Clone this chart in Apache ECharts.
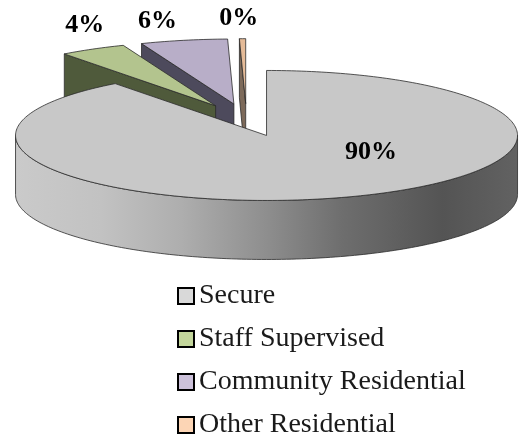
<!DOCTYPE html>
<html>
<head>
<meta charset="utf-8">
<script src="https://cdn.jsdelivr.net/npm/echarts@6/dist/echarts.min.js"></script>
<style>
  html, body { margin: 0; padding: 0; background: #fff; }
  #chart { width: 520px; height: 435px; }
</style>
</head>
<body>
<div id="chart"></div>
<script>
// 数据
var categories = ['Secure', 'Staff Supervised', 'Community Residential', 'Other Residential']
var values = [89.7, 4.3, 5.6, 0.4]
// 颜色: 顶面 / 侧面 / 图例
var topColors = ['#c8c8c8', '#b3c48e', '#b8aec8', '#e5bb98']
var wallColors = ['#8a8a8a', '#4f5a3b', '#4d4a5c', '#7d6a5a']
var legendColors = ['#d9d9d9', '#c3d69b', '#ccc1da', '#fcd5b5']

// 饼图几何
var pieX = 246.5, pieY = 120 // 未分离时的圆心
var RX = 251, RY = 65 // 椭圆半径
var depth = 59 // 厚度
var explode = 63 // 分离距离
// 标签相对扇形顶点的偏移
var labelShift = [[104.5, 17], [-131, -80], [-76.5, -83], [-7, -85]]

var total = values.reduce((a, b) => a + b, 0)

// 角度从12点方向顺时针
function angles(i) {
    var sum = 0
    for (var k = 0; k < i; k++) sum += values[k]
    return [sum / total * Math.PI * 2, (sum + values[i]) / total * Math.PI * 2]
}
function apex(i) {
    var a = angles(i)
    var mid = (a[0] + a[1]) / 2
    return [pieX + explode * Math.sin(mid), pieY - explode * Math.cos(mid) * RY / RX]
}
function rim(c, t, dy) {
    return [c[0] + RX * Math.sin(t), c[1] - RY * Math.cos(t) + (dy || 0)]
}
function arcPoints(c, from, to, dy) {
    var pts = []
    var n = Math.max(2, Math.ceil(Math.abs(to - from) / 0.02))
    for (var k = 0; k <= n; k++) pts.push(rim(c, from + (to - from) * k / n, dy))
    return pts
}

var sideGradient = new echarts.graphic.LinearGradient(0, 0, 1, 0, [
    { offset: 0, color: '#cacaca' },
    { offset: 0.17, color: '#c2c2c2' },
    { offset: 0.33, color: '#aeaeae' },
    { offset: 0.5, color: '#8e8e8e' },
    { offset: 0.65, color: '#6e6e6e' },
    { offset: 0.85, color: '#545454' },
    { offset: 1, color: '#626262' }
])
var edge = { stroke: '#2b2b2b', lineWidth: 0.8 }

function renderSlice(params, api) {
    var i = params.seriesIndex
    var a = angles(i)
    var c = apex(i)
    var children = []
    if (i === 0) {
        // 外侧面(前半圈)
        var bottom = arcPoints(c, Math.PI * 1.5, Math.PI * 0.5, depth)
        children.push({
            type: 'polygon',
            shape: { points: arcPoints(c, Math.PI * 0.5, Math.PI * 1.5).concat(bottom) },
            style: Object.assign({ fill: sideGradient }, edge)
        })
    } else {
        // 左侧截面
        var p = rim(c, a[0])
        children.push({
            type: 'polygon',
            shape: { points: [p, c, [c[0], c[1] + depth], [p[0], p[1] + depth]] },
            style: Object.assign({ fill: wallColors[i] }, edge)
        })
    }
    // 顶面
    children.push({
        type: 'polygon',
        shape: { points: [c].concat(arcPoints(c, a[0], a[1])) },
        style: Object.assign({ fill: topColors[i] }, edge)
    })
    // 百分比标签
    children.push({
        type: 'text',
        z2: 10,
        style: {
            text: Math.round(api.value(0)) + '%',
            x: c[0] + labelShift[i][0],
            y: c[1] + labelShift[i][1],
            align: 'center',
            verticalAlign: 'middle',
            fill: '#000',
            font: 'bold 26px "Liberation Serif"'
        }
    })
    return { type: 'group', children: children }
}

var option = {
    animation: false,
    backgroundColor: '#fff',
    legend: {
        orient: 'vertical',
        left: 177,
        top: 282,
        height: 200,
        padding: 0,
        itemWidth: 16,
        itemHeight: 16,
        itemGap: 15,
        icon: 'rect',
        selectedMode: false,
        data: categories.map((name, i) => ({
            name: name,
            itemStyle: { color: legendColors[i], borderColor: '#000', borderWidth: 2 }
        })),
        textStyle: {
            color: '#1a1a1a',
            fontFamily: 'Liberation Serif',
            fontSize: 28,
            padding: [0, 0, 0, 0]
        }
    },
    series: categories.map((name, i) => ({
        name: name,
        type: 'custom',
        coordinateSystem: 'none',
        z: 4 - i, // 后面的扇形先画
        silent: true,
        itemStyle: { color: legendColors[i] },
        renderItem: renderSlice,
        data: [values[i]]
    }))
}
var chart = echarts.init(document.getElementById('chart'), null, { renderer: 'canvas' })
chart.setOption(option)
</script>
</body>
</html>
